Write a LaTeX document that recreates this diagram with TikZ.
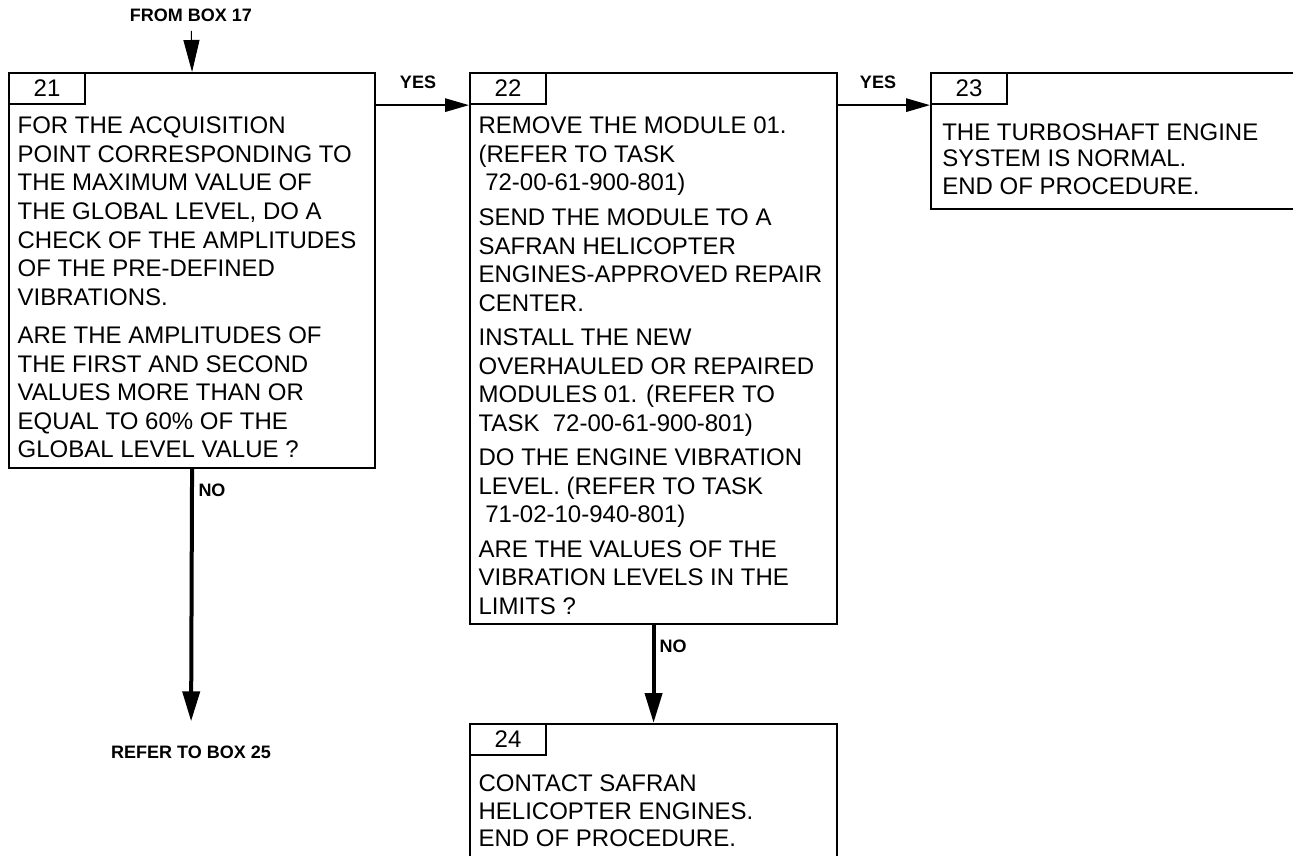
\documentclass[tikz,border=0pt]{standalone}
\usepackage{fontspec}
\setmainfont{Liberation Sans}
\usetikzlibrary{arrows.meta,positioning}

\begin{document}
\begin{tikzpicture}[x=0.75pt,y=-0.75pt,
  box/.style={draw,line width=1.6pt,anchor=north west,inner sep=0pt},
  num/.style={draw,line width=1.6pt,anchor=north west,minimum width=57pt,minimum height=23.25pt,inner sep=0pt,font=\fontsize{18}{21.4}\selectfont},
  txt/.style={anchor=north west,align=left,inner sep=0pt,font=\fontsize{18}{21.4}\selectfont},
  lbl/.style={font=\bfseries\fontsize{13.5}{16}\selectfont,inner sep=0pt},
  yes/.style={line width=1.5pt,-{Triangle[length=18pt,width=10pt]}},
  no/.style={line width=3pt,-{Triangle[length=22.5pt,width=12.75pt]}}]
\useasboundingbox (0,0) rectangle (1293,856);

% boxes
\node[box,minimum width=274.5pt,minimum height=296.25pt] (box_21) at (8,72) {};
\node[box,minimum width=275.25pt,minimum height=413.25pt] (box_22) at (469,72) {};
\node[box,minimum width=285pt,minimum height=102pt] (box_23) at (930,72) {};
\node[box,minimum width=275.25pt,minimum height=118pt] (box_24) at (469,723) {};

% box numbers
\node[num] (num_21) at (box_21.north west) {21};
\node[num] (num_22) at (box_22.north west) {22};
\node[num] (num_23) at (box_23.north west) {23};
\node[num] (num_24) at (box_24.north west) {24};

% box texts
\node[txt,below right=8.8pt and 7pt of num_21.south west,anchor=north west] (txt_21) {FOR THE ACQUISITION\\POINT CORRESPONDING TO\\THE MAXIMUM VALUE OF\\THE GLOBAL LEVEL, DO A\\CHECK OF THE AMPLITUDES\\OF THE PRE-DEFINED\\VIBRATIONS.\\[7.5pt]ARE THE AMPLITUDES OF\\THE FIRST AND SECOND\\VALUES MORE THAN OR\\EQUAL TO 60\% OF THE\\GLOBAL LEVEL VALUE ?};
\node[txt,below right=8.8pt and 7pt of num_22.south west,anchor=north west] (txt_22) {REMOVE THE MODULE 01.\\(REFER TO TASK\\~72-00-61-900-801)\\[4.5pt]SEND THE MODULE TO A\\SAFRAN HELICOPTER\\ENGINES-APPROVED REPAIR\\CENTER.\\[4.5pt]INSTALL THE NEW\\OVERHAULED OR REPAIRED\\MODULES 01. (REFER TO\\TASK~~72-00-61-900-801)\\[4.5pt]DO THE ENGINE VIBRATION\\LEVEL. (REFER TO TASK\\~71-02-10-940-801)\\[4.5pt]ARE THE VALUES OF THE\\VIBRATION LEVELS IN THE\\LIMITS ?};
\node[txt,below right=13.5pt and 9pt of num_23.south west,anchor=north west,font=\fontsize{18}{19.5}\selectfont] (txt_23) {THE TURBOSHAFT ENGINE\\SYSTEM IS NORMAL.\\[1.5pt]END OF PROCEDURE.};
\node[txt,below right=14pt and 7pt of num_24.south west,anchor=north west,font=\fontsize{18}{20.5}\selectfont] (txt_24) {CONTACT SAFRAN\\HELICOPTER ENGINES.\\[0pt]END OF PROCEDURE.};

% labels
\node[lbl] (from_17) at (191,15) {FROM BOX 17};
\node[lbl] (ref_25) at (191,752) {REFER TO BOX 25};
\node[lbl] (yes_1) at (418,82) {YES};
\node[lbl] (yes_2) at (878,82) {YES};
\node[lbl] (no_1) at (212,490) {NO};
\node[lbl] (no_2) at (673,646) {NO};

% arrows
\draw[line width=0.75pt,-{Triangle[length=24pt,width=12pt]},shorten <=7pt] (from_17) -- (box_21.north);
\draw[yes] (num_21.south -| box_21.east) -- (num_22.south west);
\draw[yes] (num_22.south -| box_22.east) -- (num_23.south west);
\draw[no,shorten >=18pt] (box_21.south) -- (ref_25.north);
\draw[no] (box_22.south) -- (box_24.north);
\end{tikzpicture}
\end{document}
